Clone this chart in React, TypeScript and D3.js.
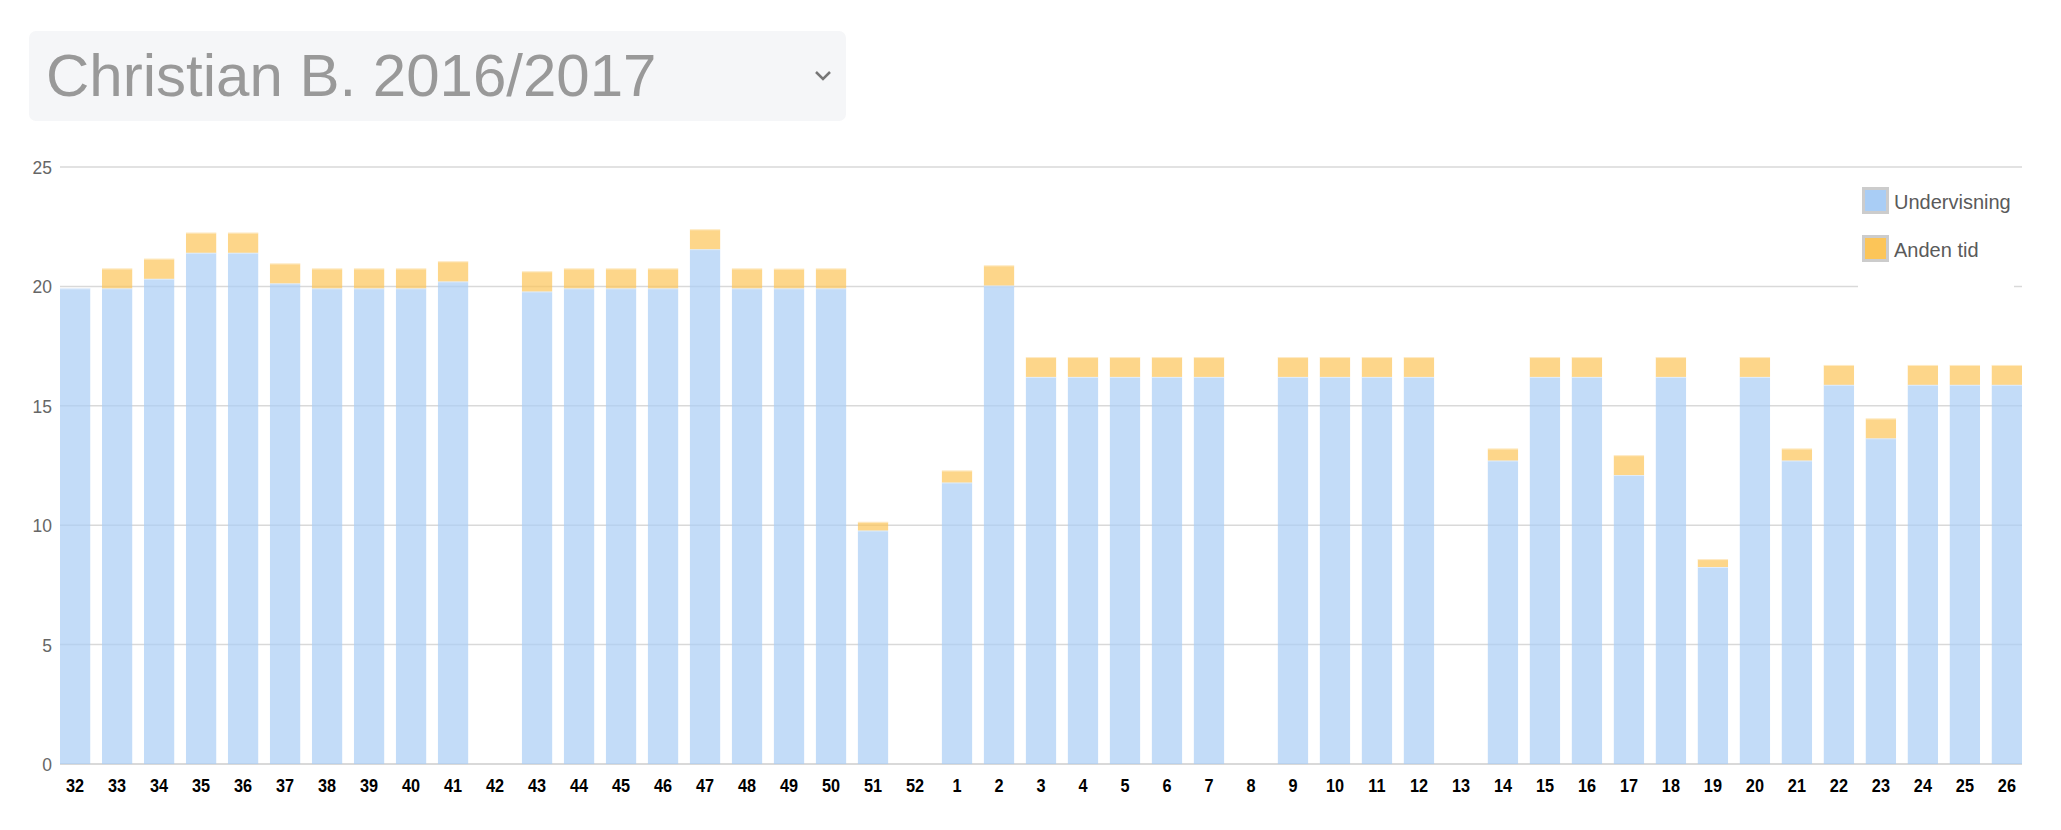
import React, { useEffect } from "react";
import * as d3 from "d3";

const weeks: string[] = [
  "32","33","34","35","36","37","38","39","40","41","42","43","44","45","46","47","48","49","50","51","52",
  "1","2","3","4","5","6","7","8","9","10","11","12","13","14","15","16","17","18","19","20","21","22","23","24","25","26",
];

const undervisning: number[] = [
  19.92, 19.92, 20.32, 21.41, 21.41, 20.13, 19.92, 19.92, 19.92, 20.21, 0, 19.79, 19.92, 19.92, 19.92, 21.56, 19.92, 19.92, 19.92, 9.78, 0,
  11.79, 20.04, 16.21, 16.21, 16.21, 16.21, 16.21, 0, 16.21, 16.21, 16.21, 16.21, 0, 12.71, 16.21, 16.21, 12.1, 16.21, 8.25, 16.21, 12.71, 15.88, 13.64, 15.88, 15.88, 15.88,
];

const andenTid: number[] = [
  0, 0.83, 0.84, 0.84, 0.84, 0.83, 0.83, 0.83, 0.83, 0.84, 0, 0.84, 0.83, 0.83, 0.83, 0.83, 0.83, 0.82, 0.83, 0.36, 0,
  0.5, 0.84, 0.83, 0.83, 0.83, 0.83, 0.83, 0, 0.83, 0.83, 0.83, 0.83, 0, 0.5, 0.83, 0.83, 0.83, 0.83, 0.33, 0.83, 0.5, 0.83, 0.83, 0.83, 0.83, 0.83,
];

const yTicks: number[] = [0, 5, 10, 15, 20, 25];
const seriesNames: string[] = ["Undervisning", "Anden tid"];
const seriesColors: string[] = ["#a9cdf5", "#fcc558"];
const title = "Christian B. 2016/2017";

export default function App() {
  useEffect(() => {
    document.body.style.margin = "0";
  }, []);

  const W = 2061;
  const H = 830;
  const x = d3.scaleBand<string>().domain(weeks).range([60, 2022]).paddingInner(0.28).paddingOuter(0);
  const y = d3.scaleLinear().domain([0, 25]).range([764, 167]);

  const rows = weeks.map((w, i) => ({ week: w, u: undervisning[i], a: andenTid[i] }));
  const stack = d3.stack<any>().keys(["u", "a"]);
  const stacked = stack(rows);

  return (
    <svg width={W} height={H} style={{ position: "absolute", left: 0, top: 0, background: "#fff" }}
      fontFamily="'Liberation Sans', Arial, sans-serif">
      {/* title select box */}
      <rect x={29} y={31} width={817} height={90} rx={7} fill="#f5f6f8" />
      <text x={46} y={96} fontSize={60} fill="#999999">{title}</text>
      <path d="M816,72 L823,79 L830,72" fill="none" stroke="#777" strokeWidth={2.5} />

      {/* grid */}
      {yTicks.map((t) => (
        <g key={t}>
          <line x1={60} x2={2022} y1={y(t)} y2={y(t)} stroke="#d9d9d9" strokeWidth={t === 0 ? 2 : 1.5} />
          <text transform={`translate(52,${y(t) + 7}) scale(0.92,1)`} fontSize={19} fill="#666" textAnchor="end">{t}</text>
        </g>
      ))}

      {/* bars */}
      {stacked.map((layer, si) => (
        <g key={si}>
          {layer.map((d, i) => {
            const h = y(d[0]) - y(d[1]);
            if (h <= 0) return null;
            const bx = x(weeks[i]) as number;
            return (
              <g key={i}>
                <rect x={bx} y={y(d[1])} width={x.bandwidth()} height={h} fill={seriesColors[si]} fillOpacity={0.7} />
                <line x1={bx} x2={bx + x.bandwidth()} y1={y(d[1]) + 0.5} y2={y(d[1]) + 0.5} stroke="#fff" strokeOpacity={0.5} strokeWidth={1} />
              </g>
            );
          })}
        </g>
      ))}

      {/* x labels */}
      {weeks.map((w) => (
        <text key={w} transform={`translate(${(x(w) as number) + x.bandwidth() / 2},792) scale(0.88,1)`}
          fontSize={18.5} fontWeight="bold" fill="#000" textAnchor="middle">{w}</text>
      ))}

      {/* legend */}
      <rect x={1858} y={172} width={156} height={117} fill="#fff" />
      {seriesNames.map((n, i) => (
        <g key={n}>
          <rect x={1863.5} y={188.5 + i * 48} width={24} height={24} fill={seriesColors[i]} stroke="#cccccc" strokeWidth={3} />
          <text x={1894} y={209 + i * 48} fontSize={20} fill="#5a5a5a">{n}</text>
        </g>
      ))}
    </svg>
  );
}
